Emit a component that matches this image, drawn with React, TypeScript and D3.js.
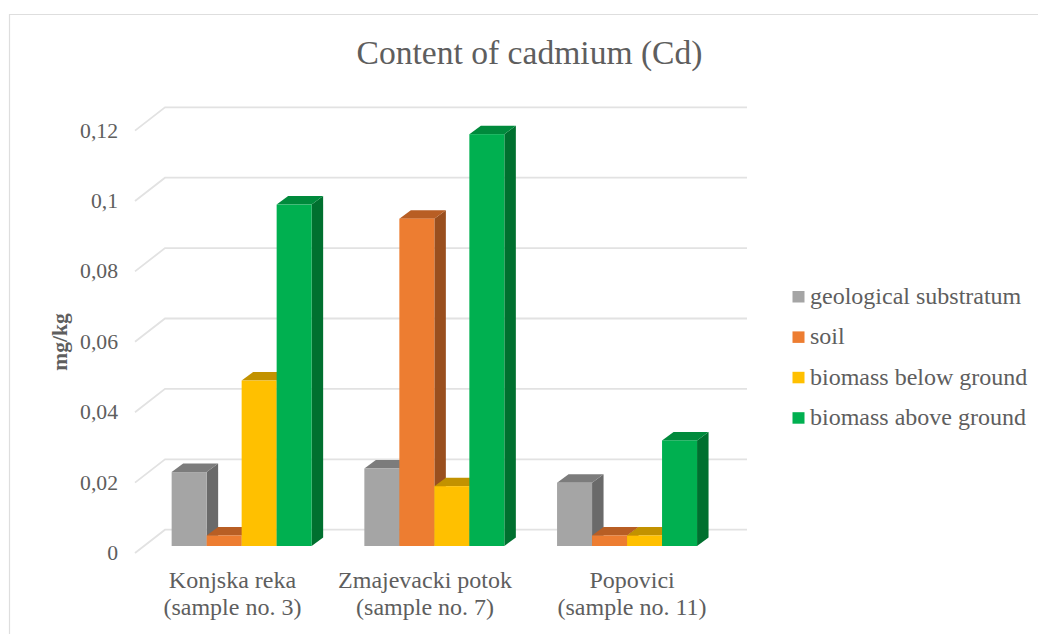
import React from "react";
import * as d3 from "d3";

const categories = ["Konjska reka", "Zmajevacki potok", "Popovici"];
const categorySamples = ["(sample no. 3)", "(sample no. 7)", "(sample no. 11)"];
const seriesNames = ["geological substratum", "soil", "biomass below ground", "biomass above ground"];
const geological = [0.021, 0.022, 0.018];
const soil = [0.003, 0.093, 0.003];
const below = [0.047, 0.017, 0.003];
const above = [0.097, 0.117, 0.03];
const seriesValues = [geological, soil, below, above];
const ticks = [0, 0.02, 0.04, 0.06, 0.08, 0.1, 0.12];
const tickLabels = ["0", "0,02", "0,04", "0,06", "0,08", "0,1", "0,12"];
const frontColors = ["#A5A5A5", "#ED7D31", "#FFC000", "#00B050"];
const sideColors = ["#6A6A6A", "#9A4F1E", "#A67C00", "#00702F"];
const topColors = ["#7C7C7C", "#B85E24", "#C29200", "#008A3C"];
const labelShift = [-9.2, -9.3, 5];

const W = 1038, H = 634;
const FONT = "'Liberation Serif', serif";
const TEXT = "#5E5E5E";
const GRID = "#E2E2E2";

// front-of-bar vertical scale; the wall gridlines sit at an offset of it
const y = d3.scaleLinear().domain([0, 0.12]).range([546, 123.6]);
const x0 = d3.scaleBand<number>().domain([0, 1, 2]).range([145.3, 723.4]);
const barW = 35;
const barDX = 11.5, barDY = 8.5;
const wallLeft = 165, wallRight = 747, wallDY = -16.3;
const floorDX = -30, floorDY = 23.3;

export default function App() {
  const lineW = barW * 4;
  return (
    <svg width={W} height={H} viewBox={`0 0 ${W} ${H}`}
      style={{ position: "absolute", left: 0, top: 0, background: "#fff", fontFamily: FONT }}>
      <path d={`M9.5 ${H} V14.5 H${W}`} fill="none" stroke="#DEDEDE" strokeWidth={1.2} />
      <text x={529.5} y={63.5} textAnchor="middle" fontSize={33.6} fill={TEXT}>Content of cadmium (Cd)</text>

      {ticks.map((t, i) => {
        const yy = y(t) + wallDY;
        return (
          <g key={i}>
            <path d={`M${wallLeft + floorDX} ${yy + floorDY} L${wallLeft} ${yy} H${wallRight}`}
              fill="none" stroke={GRID} strokeWidth={1.8} />
            <text x={118} y={yy + floorDY + 7} textAnchor="end" fontSize={21.7} fill={TEXT}>{tickLabels[i]}</text>
          </g>
        );
      })}

      <text transform="translate(67,342) rotate(-90)" textAnchor="middle" fontSize={21.5}
        fontWeight="bold" fill={TEXT}>mg/kg</text>

      {categories.map((c, ci) => {
        const cx = x0(ci)! + x0.bandwidth() / 2;
        const start = cx - lineW / 2;
        return (
          <g key={c}>
            {seriesValues.map((vals, si) => {
              const l = start + si * barW, r = l + barW;
              const t = y(vals[ci]), b = y(0);
              return (
                <g key={si}>
                  <path d={`M${r} ${t} L${r + barDX} ${t - barDY} V${b - barDY} L${r} ${b} Z`} fill={sideColors[si]} />
                  <path d={`M${l} ${t} L${l + barDX} ${t - barDY} H${r + barDX} L${r} ${t} Z`} fill={topColors[si]} />
                  <rect x={l} y={t} width={barW} height={b - t} fill={frontColors[si]} />
                </g>
              );
            })}
            <text x={cx + labelShift[ci]} y={588} textAnchor="middle" fontSize={24} fill={TEXT}>{c}</text>
            <text x={cx + labelShift[ci]} y={615} textAnchor="middle" fontSize={24} fill={TEXT}>{categorySamples[ci]}</text>
          </g>
        );
      })}

      {seriesNames.map((n, i) => (
        <g key={n}>
          <rect x={792.5} y={291 + i * 40.4} width={12} height={11.5} fill={frontColors[i]} />
          <text x={810} y={304 + i * 40.4} fontSize={24} fill={TEXT}>{n}</text>
        </g>
      ))}
    </svg>
  );
}
